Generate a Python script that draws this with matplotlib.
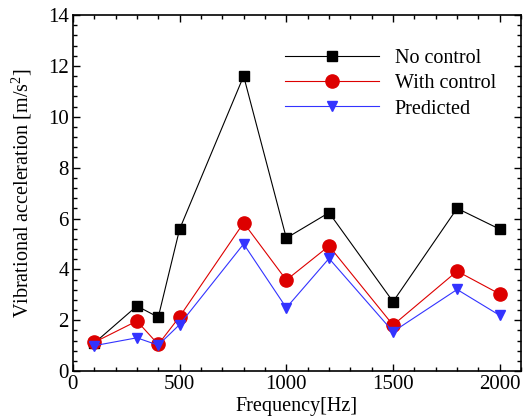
import matplotlib.pyplot as plt
from matplotlib.ticker import MultipleLocator

plt.rcParams["font.family"] = ["Liberation Serif", "DejaVu Serif"]
plt.rcParams["mathtext.default"] = "regular"

freq = [100, 300, 400, 500, 800, 1000, 1200, 1500, 1800, 2000]
no_control = [1.1, 2.56, 2.12, 5.58, 11.6, 5.23, 6.23, 2.73, 6.4, 5.58]
with_control = [1.13, 1.97, 1.05, 2.14, 5.83, 3.58, 4.92, 1.81, 3.93, 3.03]
predicted = [1.0, 1.31, 1.02, 1.83, 5.0, 2.49, 4.43, 1.55, 3.21, 2.19]

fig = plt.figure(figsize=(5.28, 4.17), dpi=100)
ax = fig.add_axes([0.138, 0.110, 0.849, 0.854])

ax.plot(freq, no_control, color="black", lw=0.8, marker="s", ms=7.2,
        label="No control", zorder=3)
ax.plot(freq, with_control, color="#dd0000", lw=0.8, marker="o", ms=9.5,
        label="With control", zorder=4)
ax.plot(freq, predicted, color="#3333ff", lw=0.8, marker="v", ms=7.5,
        label="Predicted", zorder=5)

ax.set_xlim(0, 2100)
ax.set_ylim(0, 14)
ax.xaxis.set_major_locator(MultipleLocator(500))
ax.xaxis.set_minor_locator(MultipleLocator(100))
ax.yaxis.set_major_locator(MultipleLocator(2))
ax.yaxis.set_minor_locator(MultipleLocator(0.4))
ax.tick_params(which="both", direction="in", top=True, right=True,
               labelsize=15, width=1.0)
ax.tick_params(which="major", length=5, pad=3)
ax.tick_params(which="minor", length=3)
for s in ax.spines.values():
    s.set_linewidth(1.2)

ax.set_xlabel("Frequency[Hz]", fontsize=14.5, labelpad=2)
ax.set_ylabel("Vibrational acceleration [m/s$^{2}$]", fontsize=14.5,
              labelpad=10)

ax.legend(loc="upper left", bbox_to_anchor=(0.433, 0.955), frameon=False,
          fontsize=14.5, handlelength=4.65, handletextpad=0.8,
          labelspacing=0.3)

fig.savefig("out.png", dpi=100)
